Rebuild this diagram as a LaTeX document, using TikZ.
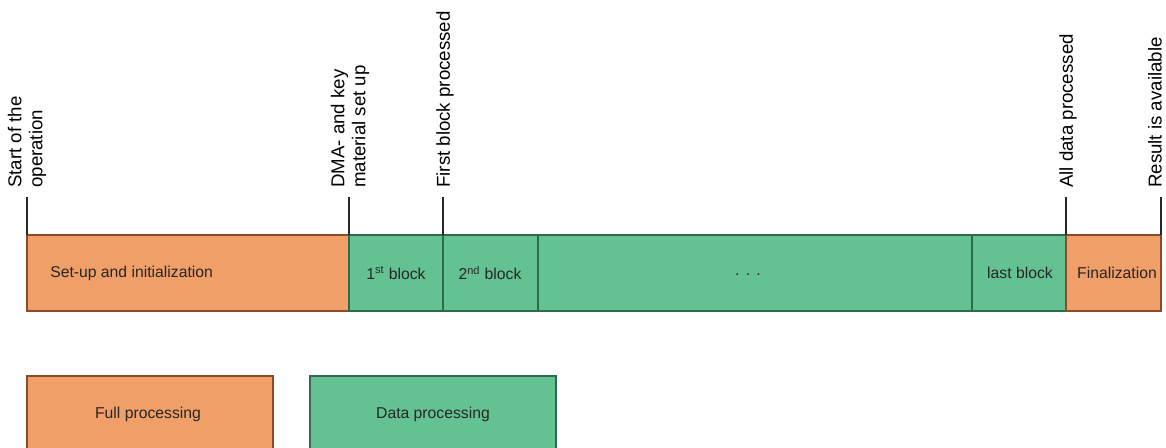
\documentclass[tikz,border=0pt]{standalone}
\usepackage{fontspec}
\setmainfont{Liberation Sans}
\definecolor{orfill}{RGB}{240,159,104}
\definecolor{ordraw}{RGB}{138,76,40}
\definecolor{grfill}{RGB}{100,194,146}
\definecolor{grdraw}{RGB}{46,106,76}
\begin{document}
\begin{tikzpicture}[x=0.75pt,y=-0.75pt,
  orbox/.style={draw=ordraw,fill=orfill,line width=2.1pt},
  grbox/.style={draw=grdraw,fill=grfill,line width=2.1pt},
  boxtext/.style={font=\fontsize{11.8}{14}\selectfont,text=black!85,inner sep=0pt},
  evlabel/.style={rotate=90,anchor=west,align=left,inner sep=0pt,font=\fontsize{14}{15.8}\selectfont},
  tick/.style={draw=black!85,line width=0.8pt}]
\useasboundingbox (0,0) rectangle (1166,447);
\clip (0,0) rectangle (1166,447);
% main bar
\path[orbox] (27,235) rectangle (349,311);
\path[grbox] (349,235) rectangle (443,311);
\path[grbox] (443,235) rectangle (538,311);
\path[grbox] (538,235) rectangle (972,311);
\path[grbox] (972,235) rectangle (1066,311);
\path[orbox] (1066,235) rectangle (1161,311);
\node[boxtext,anchor=west] (setup) at (50,273) {Set-up and initialization};
\node[boxtext] (b1) at (396,273) {1\textsuperscript{st} block};
\node[boxtext] (b2) at (490,273) {2\textsuperscript{nd} block};
\node[boxtext] (dots) at (748,275) {.\hspace{0.4em}.\hspace{0.4em}.};
\node[boxtext] (bl) at (1020,273) {last block};
\node[boxtext] (fin) at (1117,273) {Finalization};
% ticks
\coordinate (t1) at (27,197);
\coordinate (t2) at (349,197);
\coordinate (t3) at (443,197);
\coordinate (t4) at (1066,197);
\coordinate (t5) at (1161,197);
\draw[tick] (t1) -- (27,235);
\draw[tick] (t2) -- (349,235);
\draw[tick] (t3) -- (443,235);
\draw[tick] (t4) -- (1066,235);
\draw[tick] (t5) -- (1161,235);
% labels
\node[evlabel] (l1) at (27,188) {Start of the\\operation};
\node[evlabel] (l2) at (350,188) {DMA- and key\\material set up};
\node[evlabel] (l3) at (445,188) {First block processed};
\node[evlabel] (l4) at (1068,188) {All data processed};
\node[evlabel] (l5) at (1155,188) {Result is available};
% legend
\path[orbox] (27,376) rectangle (273,452);
\path[grbox] (310,376) rectangle (556,452);
\node[boxtext] (lg1) at (148,414) {Full processing};
\node[boxtext] (lg2) at (433,414) {Data processing};
\end{tikzpicture}
\end{document}
